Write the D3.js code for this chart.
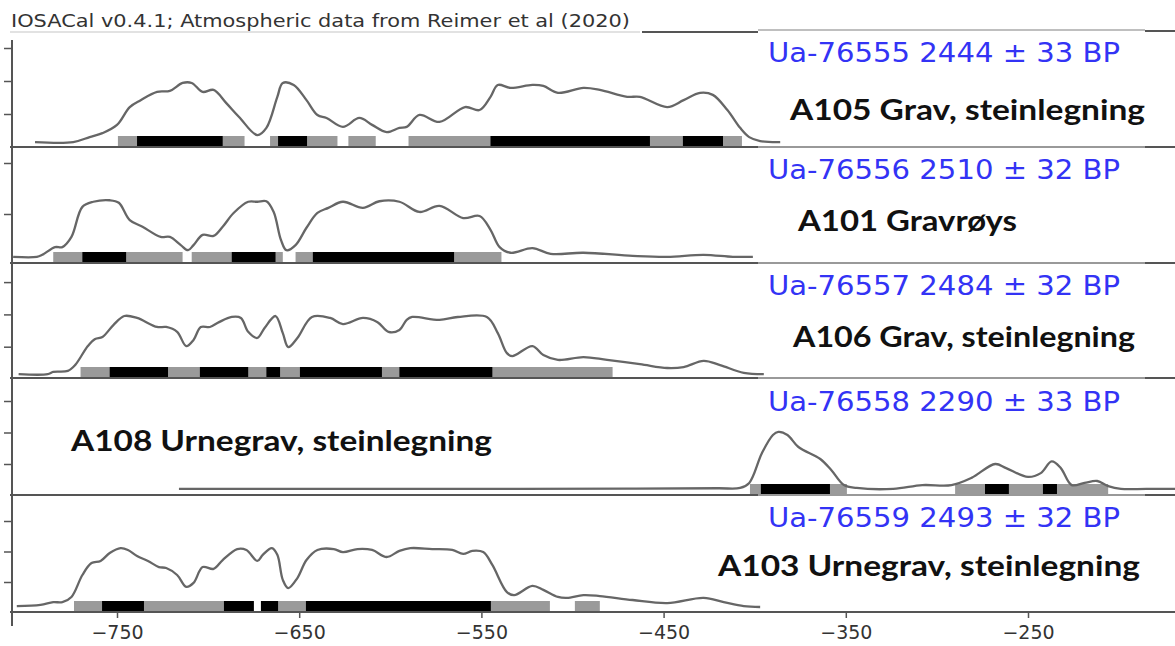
<!DOCTYPE html>
<html><head><meta charset="utf-8">
<script src="https://cdn.jsdelivr.net/npm/d3@7"></script>
<style>body{margin:0;background:#fff}svg{display:block}</style>
</head><body>
<script>
// ---------- DATA ----------
const xTicks = [-750, -650, -550, -450, -350, -250];
const titleText = "IOSACal v0.4.1; Atmospheric data from Reimer et al (2020)";
const sampleLabels = ["Ua-76555 2444 ± 33 BP","Ua-76556 2510 ± 32 BP","Ua-76557 2484 ± 32 BP","Ua-76558 2290 ± 33 BP","Ua-76559 2493 ± 32 BP"];
const contextLabels = ["A105 Grav, steinlegning","A101 Gravrøys","A106 Grav, steinlegning","A108 Urnegrav, steinlegning","A103 Urnegrav, steinlegning"];
const yTicks1 = [1,2,3], yTicks2 = [1,2], yTicks3 = [1,2,3], yTicks4 = [1,2,3], yTicks5 = [1,2,3];

// calibrated density curves: [calendar year, density]
const curve1 = [[-795,0.15],[-774,0.15],[-765,0.30],[-758,0.42],[-750,0.67],[-743,1.21],[-737,1.42],[-728,1.67],[-721,1.70],[-714,1.94],[-709,1.94],[-703,1.67],[-697,1.73],[-690,1.33],[-683,0.91],[-673,0.36],[-668,0.58],[-662,1.52],[-659,1.94],[-653,1.88],[-646,1.42],[-640,0.97],[-635,0.88],[-626,0.61],[-617,0.88],[-610,0.67],[-602,0.45],[-595,0.58],[-591,0.61],[-584,0.97],[-573,0.76],[-559,1.21],[-551,1.12],[-545,1.52],[-541,1.88],[-534,1.79],[-522,1.88],[-516,1.85],[-508,1.64],[-494,1.79],[-485,1.73],[-470,1.52],[-463,1.52],[-448,1.21],[-439,1.42],[-430,1.64],[-423,1.58],[-415,1.12],[-408,0.58],[-403,0.30],[-397,0.18],[-386,0.15]];
const curve2 = [[-807,0.16],[-794,0.16],[-791,0.20],[-784,0.35],[-780,0.35],[-775,0.55],[-769,1.14],[-763,1.24],[-754,1.27],[-749,1.22],[-743,0.88],[-736,0.75],[-726,0.55],[-721,0.55],[-715,0.39],[-711,0.29],[-708,0.39],[-703,0.59],[-697,0.57],[-692,0.75],[-686,1.02],[-678,1.24],[-673,1.24],[-668,1.25],[-664,1.04],[-660,0.49],[-657,0.29],[-652,0.39],[-646,0.73],[-640,1.02],[-634,1.12],[-626,1.24],[-615,1.12],[-606,1.25],[-595,1.24],[-584,1.04],[-573,1.16],[-560,0.92],[-551,0.96],[-545,0.69],[-540,0.35],[-534,0.24],[-522,0.33],[-512,0.22],[-494,0.24],[-467,0.18],[-448,0.16],[-428,0.20],[-412,0.16],[-401,0.16]];
const curve3 = [[-804,0.15],[-788,0.15],[-785,0.22],[-777,0.25],[-773,0.43],[-766,1.02],[-762,1.24],[-758,1.30],[-752,1.67],[-746,1.95],[-739,1.89],[-728,1.61],[-723,1.61],[-717,1.46],[-712,1.02],[-708,1.21],[-704,1.61],[-699,1.61],[-694,1.76],[-687,1.92],[-682,1.89],[-678,1.46],[-673,1.27],[-669,1.58],[-663,1.95],[-659,1.42],[-656,0.99],[-651,1.27],[-643,1.92],[-633,1.89],[-626,1.70],[-615,1.89],[-607,1.76],[-601,1.46],[-595,1.52],[-591,1.83],[-588,1.92],[-573,1.83],[-563,1.92],[-547,1.92],[-541,1.42],[-536,0.80],[-533,0.71],[-522,1.02],[-516,0.74],[-508,0.59],[-494,0.68],[-481,0.59],[-463,0.46],[-448,0.34],[-439,0.37],[-428,0.56],[-419,0.43],[-406,0.19],[-395,0.15]];
const curve4 = [[-716,0.21],[-650,0.21],[-560,0.21],[-470,0.22],[-420,0.23],[-408,0.24],[-403,0.40],[-396,1.35],[-390,1.92],[-387,2.02],[-382,1.92],[-376,1.54],[-364,1.16],[-358,0.81],[-351,0.33],[-344,0.24],[-324,0.21],[-308,0.33],[-292,0.33],[-281,0.56],[-268,1.00],[-262,0.87],[-250,0.59],[-243,0.71],[-237,1.08],[-232,0.87],[-226,0.33],[-219,0.40],[-212,0.46],[-206,0.30],[-199,0.21],[-185,0.21],[-169,0.21]];
const curve5 = [[-805,0.21],[-792,0.25],[-785,0.34],[-780,0.34],[-775,0.51],[-769,1.23],[-764,1.62],[-759,1.69],[-754,1.95],[-748,2.11],[-744,2.05],[-739,1.85],[-733,1.69],[-727,1.49],[-723,1.46],[-717,1.23],[-712,0.84],[-708,0.97],[-703,1.49],[-697,1.43],[-692,1.72],[-684,2.08],[-679,2.05],[-673,1.69],[-670,1.89],[-665,2.11],[-662,1.89],[-659,1.07],[-656,0.80],[-651,1.13],[-646,1.72],[-640,2.05],[-631,2.08],[-626,1.98],[-618,2.08],[-610,2.05],[-602,1.82],[-595,2.02],[-589,2.11],[-577,2.08],[-566,2.05],[-560,1.92],[-555,2.02],[-549,1.98],[-544,1.56],[-536,0.67],[-532,0.57],[-522,0.87],[-516,0.74],[-508,0.51],[-503,0.48],[-494,0.57],[-485,0.54],[-467,0.41],[-448,0.31],[-428,0.48],[-417,0.34],[-406,0.21],[-397,0.18]];

// HPD intervals: 95% (grey) and 68% (black), [start, end] in calendar years
const hpd95_1 = [[-749.5,-680],[-666,-629],[-623,-608],[-590,-407]];
const hpd68_1 = [[-739,-692],[-661.6,-645.7],[-545,-457.5],[-439.4,-417.4]];
const hpd95_2 = [[-785,-714],[-709,-659],[-652,-539]];
const hpd68_2 = [[-769,-745],[-687,-663],[-642.5,-565]];
const hpd95_3 = [[-770,-478]];
const hpd68_3 = [[-754,-722],[-704.5,-678],[-668,-660.5],[-649.6,-604.6],[-595,-544]];
const hpd95_4 = [[-402.6,-349.4],[-290,-206]];
const hpd68_4 = [[-396.6,-358.7],[-273.6,-260.5],[-241.8,-234.1]];
const hpd95_5 = [[-773.6,-674.9],[-671,-512.4],[-498.7,-485]];
const hpd68_5 = [[-758.2,-735.2],[-691.3,-674.9],[-671,-661.6],[-646.3,-544.8]];

// ---------- LAYOUT ----------
const W = 1175, H = 646;
const layout = [
  {y0:147, unit:33,   bottom:147, blueY:62,  blackX:790, blackY:120, blackW:355},
  {y0:265, unit:51,   bottom:263, blueY:179, blackX:798, blackY:231, blackW:219},
  {y0:379, unit:32.3, bottom:378, blueY:295, blackX:793, blackY:347, blackW:342},
  {y0:495.5,unit:31.5,bottom:495, blueY:411, blackX:71,  blackY:451, blackW:421},
  {y0:612.5,unit:30.5,bottom:612, blueY:527, blackX:718, blackY:576, blackW:422}
];
const curves = [curve1,curve2,curve3,curve4,curve5];
const h95 = [hpd95_1,hpd95_2,hpd95_3,hpd95_4,hpd95_5];
const h68 = [hpd68_1,hpd68_2,hpd68_3,hpd68_4,hpd68_5];
const yTickSets = [yTicks1,yTicks2,yTicks3,yTicks4,yTicks5];

const svg = d3.select("body").append("svg").attr("width",W).attr("height",H);
const x = d3.scaleLinear().domain([-750,-250]).range([117,1028]);
const axisX = 12;
const barH = 11;

// title
svg.append("text").attr("x",11).attr("y",27)
  .attr("font-family","DejaVu Sans").attr("font-size",18).attr("fill","#333")
  .attr("textLength",619).attr("lengthAdjust","spacingAndGlyphs").text(titleText);

// top frame line (collage style)
svg.append("line").attr("x1",10).attr("x2",640).attr("y1",32).attr("y2",32).attr("stroke","#e2e2e2").attr("stroke-width",2);
svg.append("line").attr("x1",642).attr("x2",758).attr("y1",32).attr("y2",32).attr("stroke","#555").attr("stroke-width",2);
svg.append("line").attr("x1",758).attr("x2",1145).attr("y1",30).attr("y2",30).attr("stroke","#aaa").attr("stroke-width",1.5);
svg.append("line").attr("x1",1145).attr("x2",1175).attr("y1",31).attr("y2",31).attr("stroke","#555").attr("stroke-width",2);

layout.forEach((L,i) => {
  const y = d3.scaleLinear().domain([0,1]).range([L.y0, L.y0 - L.unit]);
  const g = svg.append("g");
  // HPD bars
  g.selectAll("rect.g95").data(h95[i]).join("rect")
    .attr("x",d=>x(d[0])).attr("width",d=>x(d[1])-x(d[0]))
    .attr("y",L.bottom-barH).attr("height",barH).attr("fill","#9a9a9a");
  g.selectAll("rect.g68").data(h68[i]).join("rect")
    .attr("x",d=>x(d[0])).attr("width",d=>x(d[1])-x(d[0]))
    .attr("y",L.bottom-barH).attr("height",barH).attr("fill","#000");
  // curve
  const line = d3.line().x(d=>x(d[0])).y(d=>y(d[1])).curve(d3.curveCatmullRom.alpha(0.5));
  g.append("path").datum(curves[i]).attr("d",line)
    .attr("fill","none").attr("stroke","#666").attr("stroke-width",2.3);
  // y ticks (unlabelled)
  const ax = d3.axisLeft(y).tickValues(yTickSets[i]).tickSize(8).tickFormat("");
  const ag = svg.append("g").attr("transform",`translate(${axisX},0)`).call(ax);
  ag.select(".domain").remove();
  ag.selectAll("line").attr("stroke","#555").attr("stroke-width",1.5);
  // bottom separator
  if (i < 4) {
    svg.append("line").attr("x1",10).attr("x2",758).attr("y1",L.bottom).attr("y2",L.bottom).attr("stroke","#555").attr("stroke-width",2);
    svg.append("line").attr("x1",758).attr("x2",1145).attr("y1",L.bottom).attr("y2",L.bottom).attr("stroke","#999").attr("stroke-width",2);
    svg.append("line").attr("x1",1145).attr("x2",1175).attr("y1",L.bottom).attr("y2",L.bottom).attr("stroke","#555").attr("stroke-width",2);
  }
  // labels
  svg.append("text").attr("x",768).attr("y",L.blueY)
    .attr("font-family","DejaVu Sans").attr("font-size",27).attr("fill","#3333f5")
    .attr("textLength",352).attr("lengthAdjust","spacingAndGlyphs").text(sampleLabels[i]);
  svg.append("text").attr("x",L.blackX).attr("y",L.blackY)
    .attr("font-family","Lato").attr("font-weight","bold").attr("font-size",28).attr("fill","#111")
    .attr("textLength",L.blackW).attr("lengthAdjust","spacingAndGlyphs").text(contextLabels[i]);
});

// left vertical axis
svg.append("line").attr("x1",axisX).attr("x2",axisX).attr("y1",40).attr("y2",626).attr("stroke","#555").attr("stroke-width",2);

// bottom axis
const xa = d3.axisBottom(x).tickValues(xTicks).tickSize(6).tickPadding(8).tickFormat(d3.format("d"));
const xg = svg.append("g").attr("transform","translate(0,612)").call(xa);
xg.select(".domain").remove();
xg.selectAll("line").attr("stroke","#555").attr("stroke-width",1.5);
xg.selectAll("text").attr("font-family","DejaVu Sans").attr("font-size",19).attr("fill","#333");
svg.append("line").attr("x1",10).attr("x2",1175).attr("y1",612).attr("y2",612).attr("stroke","#555").attr("stroke-width",2);
</script>
</body></html>
